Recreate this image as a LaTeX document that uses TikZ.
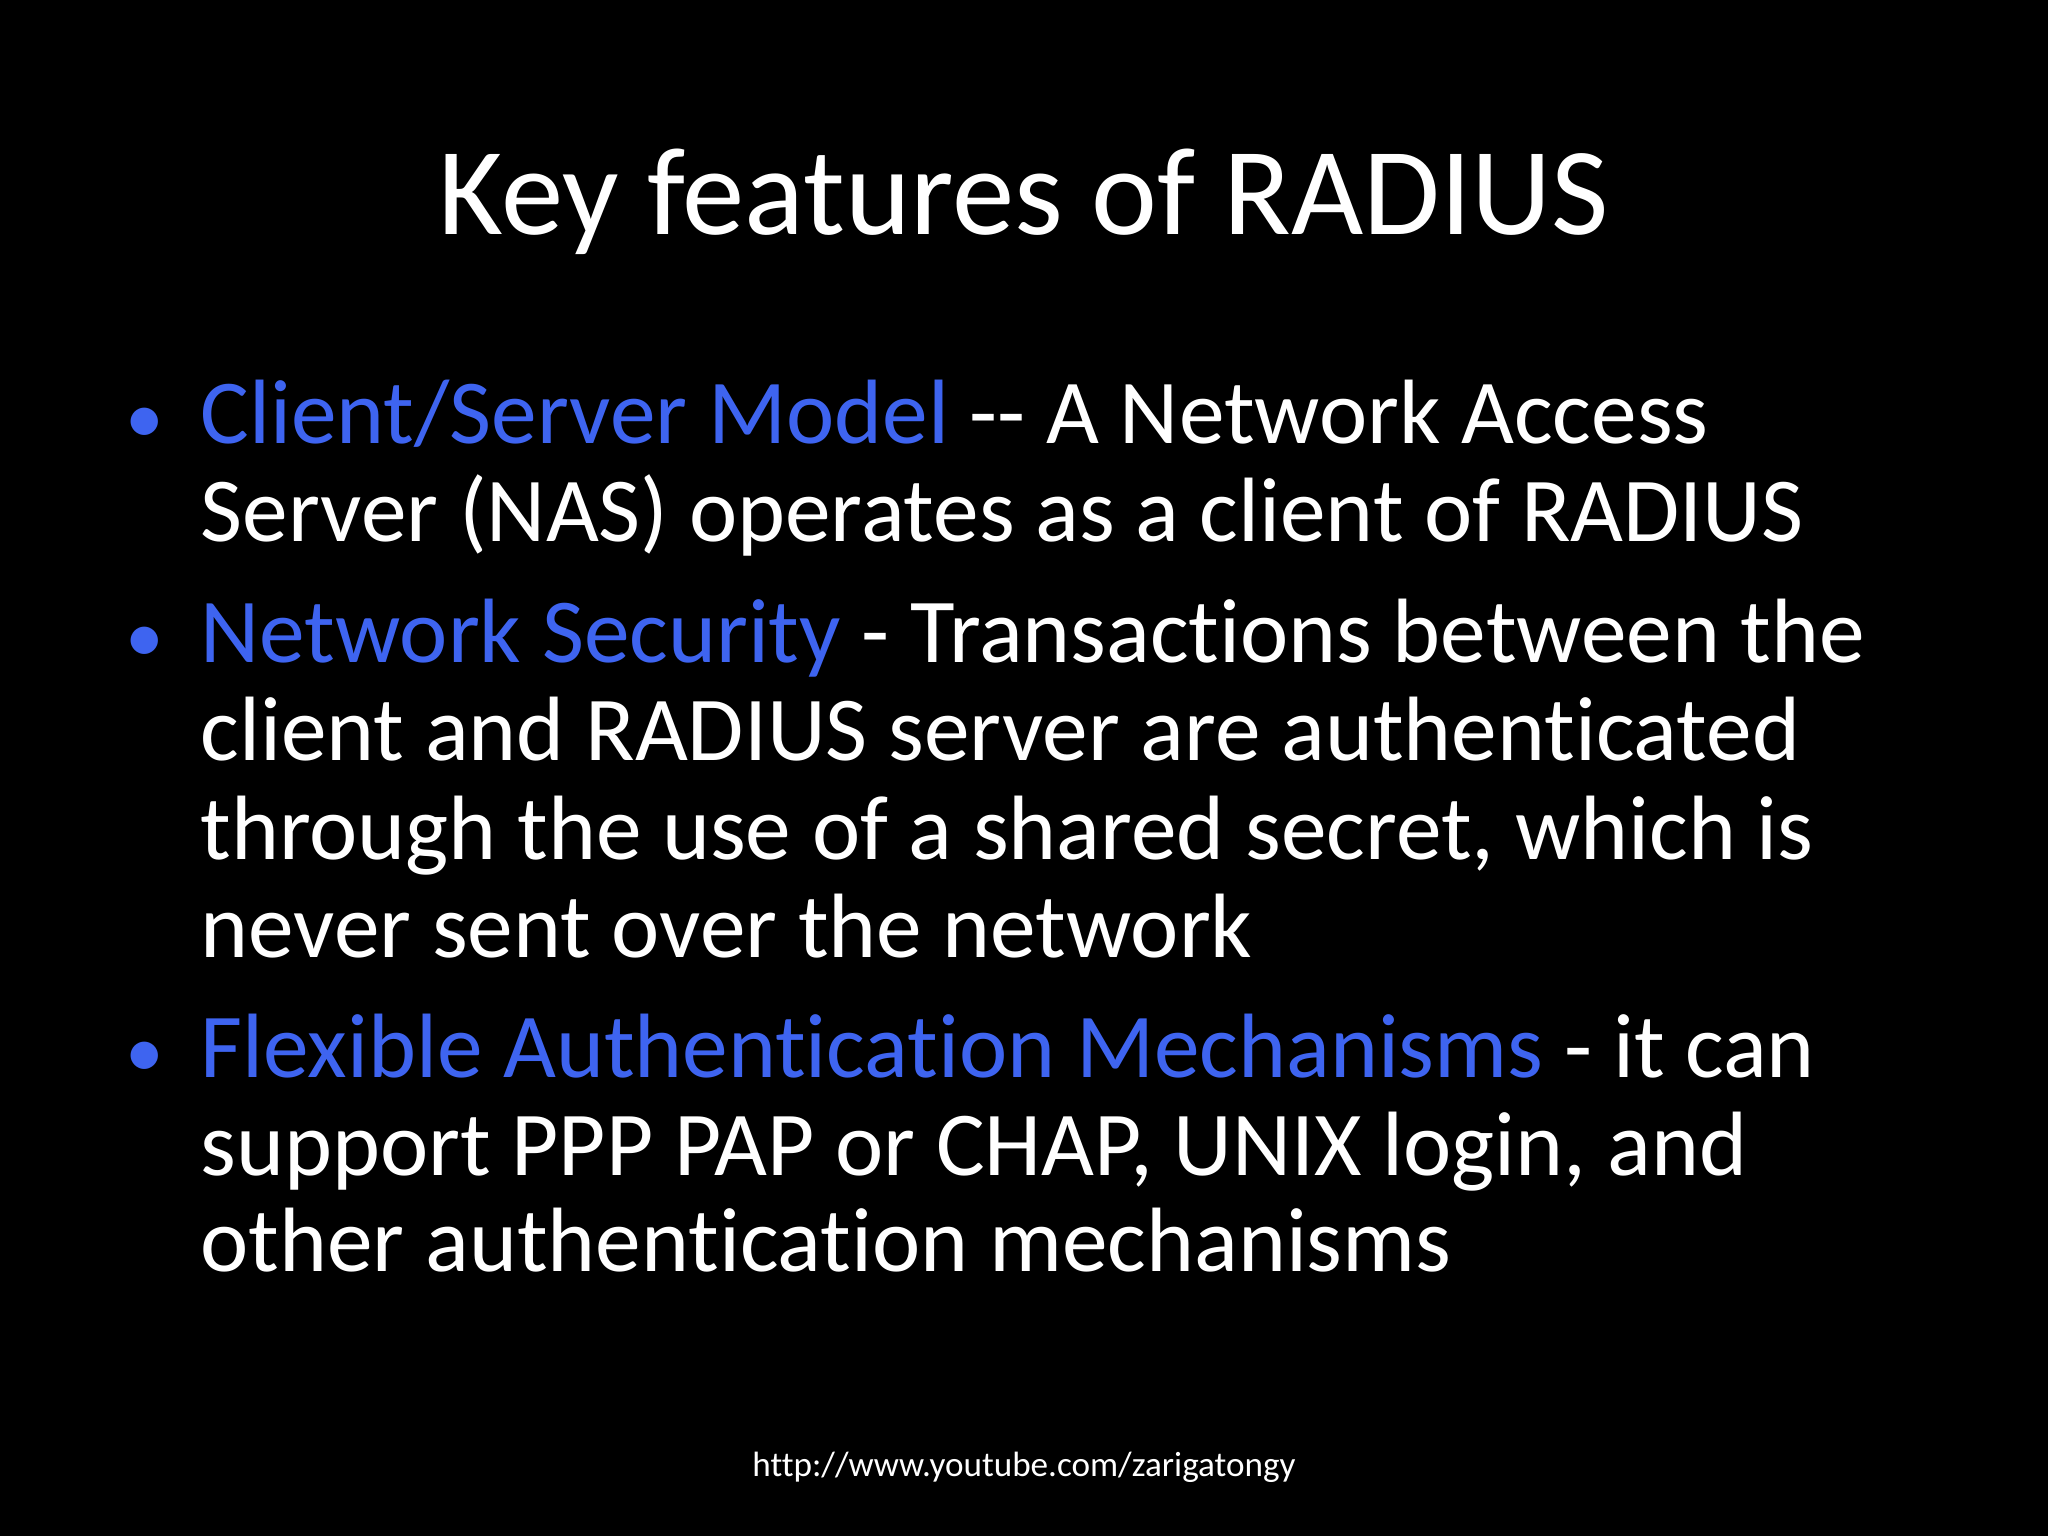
\documentclass[tikz,border=0pt]{standalone}
\usepackage{fontspec}
\setmainfont{Carlito}[RawFeature={-liga}]
\definecolor{hl}{RGB}{62,100,240}
\begin{document}
\begin{tikzpicture}[x=1cm,y=1cm,
 ln/.style={anchor=base west,inner sep=0pt,text=white,font=\fontsize{26}{28}\selectfont},
 bul/.style={anchor=base west,inner sep=0pt,text=hl,font=\fontsize{22}{24}\selectfont}]
\fill[black] (0,0) rectangle (20.48,-15.36);
\useasboundingbox (0,0) rectangle (20.48,-15.36);
\node[anchor=base,inner sep=0pt,text=white,font=\fontsize{35.5}{40}\selectfont] (t) at (10.24,-2.35) {Key features of RADIUS};
\node[bul] (b1) at (1.25,-4.44) {•};
\node[ln] (l1) at (2.0,-4.44) {\textcolor{hl}{Client/Server Model} {-}{-} A Network Access};
\node[ln] (l2) at (2.0,-5.42) {Server (NAS) operates as a client of RADIUS};
\node[bul] (b2) at (1.25,-6.63) {•};
\node[ln] (l3) at (2.0,-6.63) {\textcolor{hl}{Network Security} - Transactions between the};
\node[ln] (l4) at (2.0,-7.61) {client and RADIUS server are authenticated};
\node[ln] (l5) at (2.0,-8.59) {through the use of a shared secret, which is};
\node[ln] (l6) at (2.0,-9.57) {never sent over the network};
\node[bul] (b3) at (1.25,-10.77) {•};
\node[ln] (l7) at (2.0,-10.77) {\textcolor{hl}{Flexible Authentication Mechanisms} - it can};
\node[ln] (l8) at (2.0,-11.75) {support PPP PAP or CHAP, UNIX login, and};
\node[ln] (l9) at (2.0,-12.71) {other authentication mechanisms};
\node[anchor=base,inner sep=0pt,text=white,font=\fontsize{10}{12}\selectfont] (f) at (10.24,-14.76) {http://www.youtube.com/zarigatongy};
\end{tikzpicture}
\end{document}
